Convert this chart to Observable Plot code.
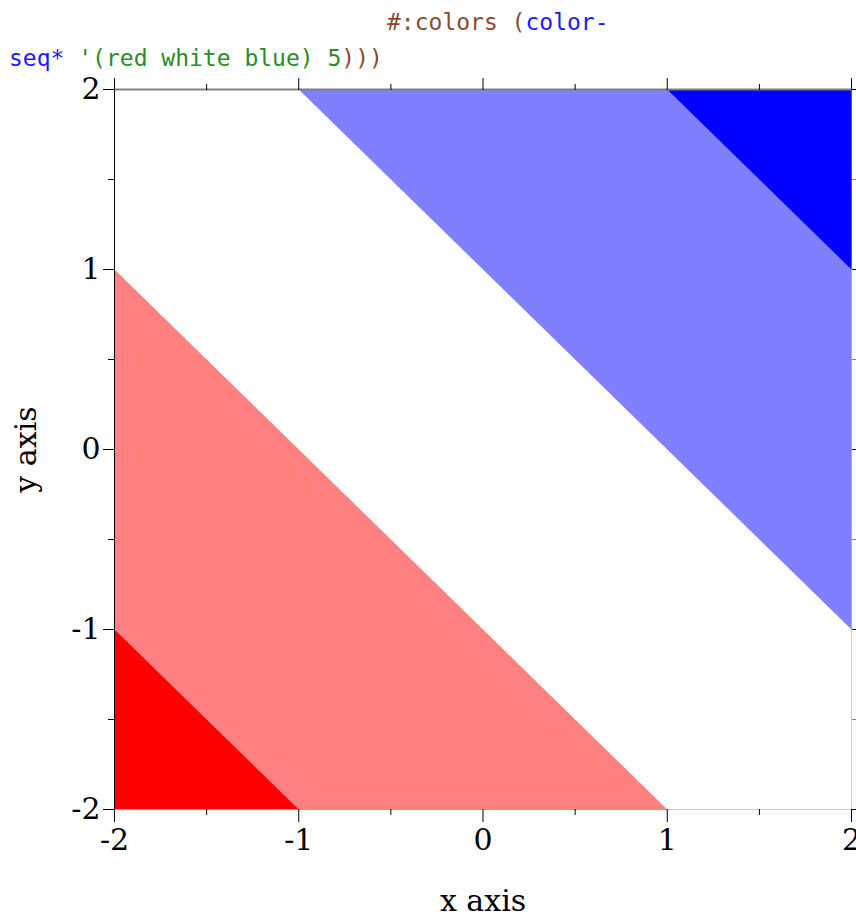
<!DOCTYPE html>
<html>
<head>
<meta charset="utf-8">
<script src="https://cdn.jsdelivr.net/npm/d3@7"></script>
<script src="https://cdn.jsdelivr.net/npm/@observablehq/plot@0.6"></script>
<style>
  html, body { margin: 0; padding: 0; background: #fff; }
  #wrap { position: relative; width: 856px; height: 917px; overflow: hidden; }
  .code { position: absolute; font-family: "DejaVu Sans Mono", monospace; font-size: 23px; white-space: pre; line-height: 1; }
</style>
</head>
<body>
<div id="wrap"></div>
<script>
// contour-interval thresholds of z = x + y and their colours (color-seq* red white blue, 5)
const bandThresholds = [-4, -3, -1, 1, 3];
const bandColors = ["#ff0000", "#ff8080", "#ffffff", "#8080ff", "#0000ff"];
const xDomain = [-2, 2];
const yDomain = [-2, 2];
const majorTicks = [-2, -1, 0, 1, 2];
const minorTicks = [-1.5, -0.5, 0.5, 1.5];
const xLabel = "x axis";
const yLabel = "y axis";

const blank = () => "";

const chart = Plot.plot({
  width: 856,
  height: 917,
  marginLeft: 114,
  marginRight: 5,
  marginTop: 89,
  marginBottom: 108,
  style: { fontFamily: "DejaVu Serif", fontSize: "30px", color: "#000", background: "transparent", overflow: "visible" },
  x: { domain: xDomain, nice: false },
  y: { domain: yDomain, nice: false },
  color: { type: "ordinal", domain: bandThresholds, range: bandColors },
  marks: [
    Plot.contour({
      fill: (x, y) => x + y,
      x1: xDomain[0], x2: xDomain[1], y1: yDomain[0], y2: yDomain[1],
      thresholds: bandThresholds,
      pixelSize: 1,
      stroke: "none"
    }),
    Plot.ruleY([yDomain[1]], { stroke: "#808080", strokeWidth: 2 }),
    Plot.ruleX([xDomain[0]], { stroke: "#000", strokeWidth: 1 }),
    // left axis
    Plot.axisY({ anchor: "left", ticks: majorTicks, tickSize: 11, tickPadding: 3, label: null, tickFormat: d => String(d), fontSize: 30 }),
    Plot.axisY({ anchor: "left", ticks: minorTicks, tickSize: 6, label: null, tickFormat: blank }),
    // bottom axis
    Plot.axisX({ anchor: "bottom", ticks: majorTicks, tickSize: 13, tickPadding: 6, label: null, tickFormat: d => String(d), fontSize: 30 }),
    Plot.axisX({ anchor: "bottom", ticks: minorTicks, tickSize: 6, label: null, tickFormat: blank }),
    // top axis
    Plot.axisX({ anchor: "top", ticks: majorTicks, tickSize: 12, label: null, tickFormat: blank }),
    Plot.axisX({ anchor: "top", ticks: minorTicks, tickSize: 6, label: null, tickFormat: blank }),
    // right axis
    Plot.axisY({ anchor: "right", ticks: majorTicks, tickSize: 11, label: null, tickFormat: blank }),
    Plot.axisY({ anchor: "right", ticks: minorTicks, tickSize: 6, label: null, tickFormat: blank, stroke: "#808080" }),
    // axis titles
    Plot.text([xLabel], { frameAnchor: "bottom", dy: 101, lineAnchor: "bottom", fontSize: 30, fill: "#000" }),
    Plot.text([yLabel], { frameAnchor: "left", dx: -79, rotate: -90, textAnchor: "middle", lineAnchor: "bottom", fontSize: 30, fill: "#000" })
  ]
});

const wrap = document.getElementById("wrap");
wrap.appendChild(chart);

// title: two lines of coloured code text
const titleLines = [
  { left: 387, top: 11, parts: [["#:colors (", "#8b4a2b"], ["color-", "#1a1aff"]] },
  { left: 9, top: 47, parts: [["seq*", "#1a1aff"], [" '(red white blue) 5", "#2a8c2a"], [")))", "#8b4a2b"]] }
];
for (const line of titleLines) {
  const div = document.createElement("div");
  div.className = "code";
  div.style.left = line.left + "px";
  div.style.top = line.top + "px";
  for (const [txt, col] of line.parts) {
    const s = document.createElement("span");
    s.textContent = txt;
    s.style.color = col;
    div.appendChild(s);
  }
  wrap.appendChild(div);
}
</script>
</body>
</html>
